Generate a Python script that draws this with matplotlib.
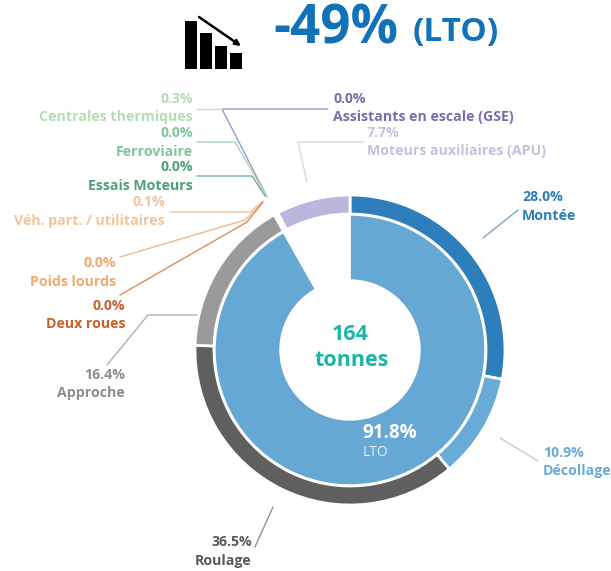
import matplotlib
matplotlib.use("Agg")
import matplotlib.pyplot as plt

plt.rcParams['font.family'] = ['Open Sans', 'DejaVu Sans']

W, H = 611, 571

# outer ring, clockwise from the top
outer_labels = ["Montée", "Décollage", "Roulage", "Approche", "Deux roues", "Poids lourds",
                "Véh. part. / utilitaires", "Essais Moteurs", "Ferroviaire",
                "Centrales thermiques", "Assistants en escale (GSE)", "Moteurs auxiliaires (APU)"]
outer_values = [28.0, 10.9, 36.5, 16.4, 0.0, 0.0, 0.1, 0.0, 0.0, 0.3, 0.0, 7.7]
outer_colors = ["#2e7ebb", "#6aaad6", "#5f5f5f", "#9a9a9a", "#c8602a", "#eeaa70",
                "#f2c49c", "#4f9f78", "#80c49c", "#b5dcb5", "#7f78b5", "#b9b8dc"]

# inner ring
inner_values = [91.8, 8.2]
inner_colors = ["#66a8d4", "white"]

# icon bars
icon_heights = [48, 36, 23, 16]

fig = plt.figure(figsize=(W / 100, H / 100), dpi=100)

# pie axes covers the whole figure in pixels, y going up
pie_ax = fig.add_axes([0, 0, 1, 1])
cx, cy = 350, H - 350

pie_ax.pie(outer_values, colors=outer_colors, startangle=90, counterclock=False,
           center=(cx, cy), radius=155, normalize=True, frame=True,
           wedgeprops=dict(width=19, edgecolor="white", linewidth=2))
pie_ax.pie(inner_values, colors=inner_colors, startangle=90, counterclock=False,
           center=(cx, cy), radius=135, normalize=True, frame=True,
           wedgeprops=dict(width=65, edgecolor="white", linewidth=1))
pie_ax.set_xlim(0, W)
pie_ax.set_ylim(0, H)
pie_ax.set_aspect("equal")
pie_ax.axis("off")

# overlay in image pixels, y going down
ax = fig.add_axes([0, 0, 1, 1])
ax.set_xlim(0, W)
ax.set_ylim(H, 0)
ax.axis("off")
ax.patch.set_alpha(0)


def label(x, y, pct, name, color, ha="right", fs=10.2):
    ax.text(x, y, pct, color=color, ha=ha, va="center", fontsize=fs, fontweight="bold")
    ax.text(x, y + 18.5, name, color=color, ha=ha, va="center", fontsize=fs, fontweight="bold")


def leader(xs, ys, color):
    ax.plot(xs, ys, color=color, lw=1, solid_capstyle="round")


label(193, 99, "0.3%", "Centrales thermiques", outer_colors[9])
label(193, 133, "0.0%", "Ferroviaire", outer_colors[8])
label(193, 167, "0.0%", "Essais Moteurs", outer_colors[7])
label(165, 202, "0.1%", "Véh. part. / utilitaires", outer_colors[6])
label(116, 263, "0.0%", "Poids lourds", outer_colors[5])
label(125, 306, "0.0%", "Deux roues", outer_colors[4])
label(125, 375, "16.4%", "Approche", "#8c8c8c")
label(252, 542, "36.5%", "Roulage", "#595959")
label(333, 99, "0.0%", "Assistants en escale (GSE)", "#7570ad", ha="left")
label(367, 133, "7.7%", "Moteurs auxiliaires (APU)", "#c3c2de", ha="left")
label(522, 197, "28.0%", "Montée", "#2e7ebb", ha="left")
label(543, 453, "10.9%", "Décollage", "#6aaad6", ha="left")

leader([328, 222, 267], [109, 109, 197], "#9c98c4")
leader([197, 222], [109, 109], "#c4dcc4")
leader([197, 235, 267], [142, 142, 197], "#a8d4b8")
leader([197, 252, 265], [176, 176, 196], "#70b090")
leader([170, 250, 263], [212, 212, 201], "#f2c49c")
leader([120, 245, 262], [257, 220, 203], "#eeb98c")
leader([120, 247, 263], [295, 222, 202], "#dc8c5c")
leader([363, 298, 307], [142, 142, 182], "#d8d8d8")
leader([483, 518], [238, 210], "#7aa6c4")
leader([107, 148, 197], [365, 315, 315], "#b0b0b0")
leader([500, 538], [438, 461], "#b4cfe0")
leader([255, 273], [547, 507], "#909090")

# centre and LTO
ax.text(350, 335, "164", color="#1cb5a8", ha="center", va="center", fontsize=15.5, fontweight="bold")
ax.text(352, 360, "tonnes", color="#1cb5a8", ha="center", va="center", fontsize=15.5, fontweight="bold")
ax.text(390, 433, "91.8%", color="white", ha="center", va="center", fontsize=13.5, fontweight="bold")
ax.text(363, 452, "LTO", color="#e4f0f8", ha="left", va="center", fontsize=10)

# title
ax.text(273, 30, "-49%", color="#1272b8", ha="left", va="center", fontsize=38, fontweight="bold")
ax.text(413, 33, "(LTO)", color="#1272b8", ha="left", va="center", fontsize=24, fontweight="bold")

# icon
for i, h in enumerate(icon_heights):
    ax.bar(190.5 + i * 15.2, h, width=12, bottom=69 - h, color="black")
ax.annotate("", xy=(241, 46), xytext=(199, 17),
            arrowprops=dict(arrowstyle="-|>", color="black", lw=1.8, mutation_scale=8,
                            shrinkA=0, shrinkB=0))

fig.savefig("out.png", dpi=100)
